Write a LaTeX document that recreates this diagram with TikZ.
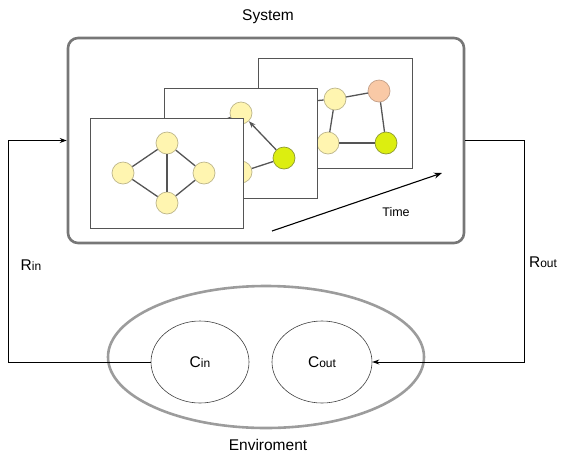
\documentclass[tikz,border=0pt]{standalone}
\usepackage{fontspec}
\setmainfont{Liberation Sans}
\usetikzlibrary{arrows.meta,shapes.geometric}
\definecolor{sysgray}{HTML}{777777}
\definecolor{envgray}{HTML}{9C9C9C}
\definecolor{framegray}{HTML}{555555}
\definecolor{edgegray}{HTML}{555555}
\definecolor{yfill}{HTML}{FFF5B0}
\definecolor{ydraw}{HTML}{BDB68A}
\definecolor{gfill}{HTML}{DCEE10}
\definecolor{gdraw}{HTML}{8E9A30}
\definecolor{ofill}{HTML}{F9C9A6}
\definecolor{odraw}{HTML}{C4A088}
\begin{document}
\begin{tikzpicture}[x=1pt,y=-1pt,
  sysbox/.style={draw=sysgray, line width=2.6pt, rounded corners=10pt, fill=white, inner sep=0},
  framebox/.style={draw=framegray, line width=0.8pt, fill=white, inner sep=0},
  vtx/.style={circle, minimum size=22pt, inner sep=0, draw=ydraw, line width=0.7pt, fill=yfill},
  gvtx/.style={vtx, draw=gdraw, fill=gfill},
  ovtx/.style={vtx, draw=odraw, fill=ofill},
  gedge/.style={draw=edgegray, line width=1.3pt},
  conn/.style={draw=black, line width=0.9pt},
  cell/.style={ellipse, draw=black!75, line width=0.6pt, inner sep=0},
  lbl/.style={font=\fontsize{15.5}{17}\selectfont},
  sub/.style={font=\fontsize{15.5}{17}\selectfont}
]
\useasboundingbox (0,0) rectangle (562,456);

% system
\node[sysbox, minimum width=396pt, minimum height=205pt] (sys) at (266,140.5) {};
\node[lbl] (systxt) at (268,17) {System};

% frame 3
\node[framebox, minimum width=154pt, minimum height=110pt] (f3) at (335,113) {};
\node[vtx] (c1) at (290,103) {};
\node[vtx] (c2) at (335,99) {};
\node[ovtx] (c3) at (379,91) {};
\node[vtx] (c4) at (328,143) {};
\node[gvtx] (c5) at (386,143) {};
\draw[gedge] (c1) -- (c2);
\draw[gedge] (c2) -- (c3);
\draw[gedge] (c3) -- (c5);
\draw[gedge] (c5) -- (c4);
\draw[gedge] (c4) -- (c2);

% frame 2
\node[framebox, minimum width=153pt, minimum height=110pt] (f2) at (240.5,143) {};
\node[vtx] (b1) at (200,130) {};
\node[vtx] (b2) at (241,113) {};
\node[vtx] (b3) at (241,172) {};
\node[gvtx] (b4) at (284,158) {};
\draw[gedge] (b1) -- (b2);
\draw[gedge] (b3) -- (b4);
\draw[gedge, -{Stealth[length=7pt,width=5pt]}] (b4) -- (b2);

% frame 1
\node[framebox, minimum width=153pt, minimum height=110pt] (f1) at (166.5,173) {};
\node[vtx] (a1) at (167,143) {};
\node[vtx] (a2) at (123,173) {};
\node[vtx] (a3) at (204,173) {};
\node[vtx] (a4) at (167,203) {};
\draw[gedge] (a1) -- (a2);
\draw[gedge] (a1) -- (a3);
\draw[gedge] (a1) -- (a4);
\draw[gedge] (a2) -- (a4);
\draw[gedge] (a3) -- (a4);

% time arrow
\coordinate (t0) at (272,231);
\coordinate (t1) at (442,173);
\draw[conn, line width=1.1pt, -{Stealth[length=8pt,width=6pt]}] (t0) -- (t1);
\node[font=\fontsize{12.5}{14}\selectfont] (time) at (396,212) {Time};

% environment
\node[ellipse, draw=envgray, line width=2.6pt, minimum width=316pt, minimum height=142pt, inner sep=0] (env) at (266,357) {};
\node[cell, minimum width=98pt, minimum height=82pt] (cin) at (200,362) {};
\node[cell, minimum width=100pt, minimum height=82pt] (cout) at (322,362) {};
\node[sub] (cintxt) at (200,362) {C{\fontsize{12}{13}\selectfont in}};
\node[sub] (couttxt) at (322,362) {C{\fontsize{12}{13}\selectfont out}};
\node[lbl] (envtxt) at (268,445) {Enviroment};

% feedback connectors
\draw[conn, -{Stealth[length=7pt,width=5pt]}] (cin.west) -| ([xshift=-58pt]sys.west) -- (sys.west);
\draw[conn, -{Stealth[length=7pt,width=5pt]}] (sys.east) -- ([xshift=59pt]sys.east) |- (cout.east);
\node[sub] (rin) at (31,265) {R{\fontsize{12}{13}\selectfont in}};
\node[sub] (rout) at (543,262) {R{\fontsize{12}{13}\selectfont out}};
\end{tikzpicture}
\end{document}
